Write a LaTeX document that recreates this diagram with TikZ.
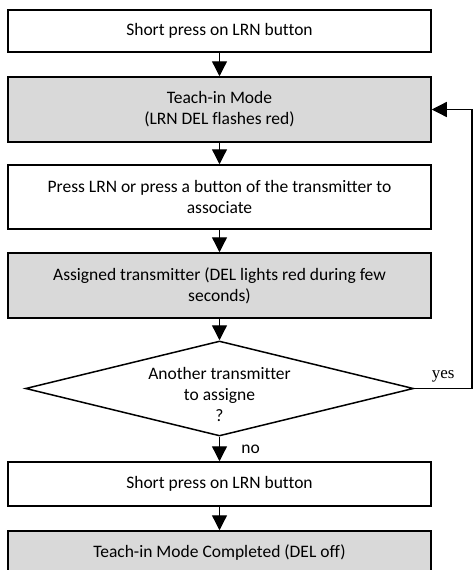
\documentclass[tikz,border=0pt]{standalone}
\usepackage{fontspec}
\setmainfont{Carlito}[Ligatures=NoCommon]
\newfontfamily\yesfont{Liberation Serif}
\usetikzlibrary{shapes.geometric}
\usetikzlibrary{arrows.meta}
\definecolor{stepgrey}{RGB}{217,217,217}
\tikzset{
    plainbox/.style = {rectangle,draw,line width=1.5pt,minimum width=423pt,align=center,inner sep=2pt},
    greybox/.style = {plainbox,fill=stepgrey},
    decision/.style = {diamond,draw,line width=1.5pt,aspect=4,minimum width=388pt,minimum height=95pt,inner sep=0pt,align=center},
    flow/.style = {line width=1.3pt,-{Triangle[width=15pt,length=15pt]}}}
\begin{document}
\begin{tikzpicture}[x=1pt,y=-1pt,font=\fontsize{17.5}{21}\selectfont]
    \useasboundingbox (0,0) rectangle (474,570);
    \clip (0,0) rectangle (474,570);
    \path (219.5,31) node[plainbox,minimum height=42pt] (press) {Short press on LRN button}
        ++ (0,78.5) node[greybox,minimum height=65pt] (teach) {Teach-in Mode\\(LRN DEL flashes red)}
        ++ (0,87.5) node[plainbox,minimum height=64pt] (assoc) {Press LRN or press a button of the transmitter to\\associate}
        ++ (0,88.5) node[greybox,minimum height=65pt] (assigned) {Assigned transmitter (DEL lights red during few\\seconds)}
        ++ (0,103) node[decision,label={[align=center,yshift=-6pt]center:{Another transmitter\\to assigne\\?}}] (ask) {}
        ++ (0,95.5) node[plainbox,minimum height=44pt] (pressend) {Short press on LRN button}
        ++ (0,69) node[greybox,minimum height=44pt] (done) {Teach-in Mode Completed (DEL off)};
    \coordinate (loop) at (472,0);
    \draw[flow] (press) -- (teach);
    \draw[flow] (teach) -- (assoc);
    \draw[flow] (assoc) -- (assigned);
    \draw[flow] (assigned) -- (ask);
    \draw[flow] (ask) -- node[right=18pt] {no} (pressend);
    \draw[flow] (pressend) -- (done);
    \draw[flow] (ask.east) -- node[above,yshift=2pt,font=\yesfont\fontsize{17}{19}\selectfont] {yes} (ask.east -| loop) |- (teach.east);
\end{tikzpicture}
\end{document}
